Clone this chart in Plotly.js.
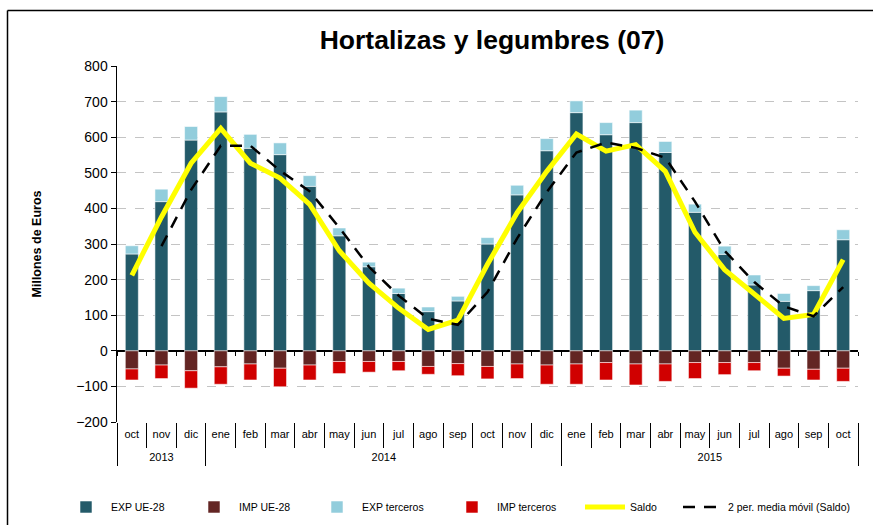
<!DOCTYPE html>
<html>
<head>
<meta charset="utf-8">
<script src="https://cdn.plot.ly/plotly-3.0.1.min.js"></script>
<style>
  html, body { margin: 0; padding: 0; background: #fff; }
  #chart { width: 873px; height: 525px; }
</style>
</head>
<body>
<div id="chart"></div>
<script>
const years = ['2013','2013','2013',
  '2014','2014','2014','2014','2014','2014','2014','2014','2014','2014','2014','2014',
  '2015','2015','2015','2015','2015','2015','2015','2015','2015','2015'];
const months = ['oct','nov','dic',
  'ene','feb','mar','abr','may','jun','jul','ago','sep','oct','nov','dic',
  'ene','feb','mar','abr','may','jun','jul','ago','sep','oct'];

const expUE = [272, 419, 592, 671, 569, 551, 462, 323, 236, 161, 110, 140, 300, 438, 562, 669, 607, 641, 557, 389, 271, 185, 139, 169, 312];
const impUE = [-51, -40, -56, -45, -37, -49, -40, -30, -30, -30, -44, -36, -44, -37, -40, -37, -33, -37, -37, -33, -33, -33, -49, -52, -49];
const expTerceros = [23, 35, 38, 43, 39, 33, 30, 22, 13, 15, 13, 13, 18, 27, 34, 33, 34, 35, 31, 23, 23, 28, 22, 14, 28];
const impTerceros = [-31, -38, -49, -49, -45, -52, -42, -34, -30, -26, -22, -34, -35, -41, -54, -57, -49, -59, -49, -45, -34, -23, -22, -30, -37];
const saldo = [212, 376, 527, 625, 527, 485, 411, 281, 190, 120, 60, 86, 243, 388, 504, 609, 561, 579, 504, 333, 228, 158, 91, 102, 256];
const mediaMovil = [null, 294, 452, 576, 576, 506, 448, 346, 236, 155, 90, 73, 165, 316, 446, 557, 585, 570, 542, 419, 281, 193, 125, 97, 179];

// category positions on the axis, derived from the label arrays
const idx = months.map((_, i) => i);
const monthBounds = months.map((_, i) => i - 0.5).concat([months.length - 0.5]);
const yearNames = [...new Set(years)];
const yearCenters = yearNames.map(y => {
  const ii = idx.filter(i => years[i] === y);
  return (ii[0] + ii[ii.length - 1]) / 2;
});
const yearBounds = idx.filter(i => i === 0 || years[i] !== years[i - 1]).map(i => i - 0.5).concat([months.length - 0.5]);
const xRange = [-0.5, months.length - 0.5];

const FONT = 'Liberation Sans, Arial, sans-serif';
const NARROW = 'Liberation Sans Narrow, Arial Narrow, Liberation Sans, sans-serif';
const barLine = { color: 'rgba(255,255,255,0.55)', width: 1 };
const helper = ax => ({ type: 'scatter', mode: 'markers', x: idx, y: saldo, xaxis: ax,
  marker: { opacity: 0 }, showlegend: false, hoverinfo: 'skip' });

const traces = [
  { type: 'bar', name: 'EXP UE-28', x: idx, y: expUE, marker: { color: '#235A69', line: barLine }, legendwidth: 73 },
  { type: 'bar', name: 'IMP UE-28', x: idx, y: impUE, marker: { color: '#632523', line: barLine }, legendwidth: 68 },
  { type: 'bar', name: 'EXP terceros', x: idx, y: expTerceros, marker: { color: '#92CDDC', line: barLine }, legendwidth: 80 },
  { type: 'bar', name: 'IMP terceros', x: idx, y: impTerceros, marker: { color: '#D00000', line: barLine }, legendwidth: 78 },
  { type: 'scatter', mode: 'lines', name: 'Saldo', x: idx, y: saldo, line: { color: '#FFFF00', width: 5 }, legendwidth: 43 },
  { type: 'scatter', mode: 'lines', name: '2 per. media móvil (Saldo)', x: idx, y: mediaMovil,
    line: { color: '#000000', width: 2.5, dash: '12px,9px' }, connectgaps: false },
  helper('x2'), helper('x3'), helper('x4'), helper('x5')
];

const W = 873, H = 525, L = 117, R = 15, T = 66, B = 103;
const pw = W - L - R, ph = H - T - B;
const px = v => (v - L) / pw;
const py = v => (H - B - v) / ph;

const overlay = extra => Object.assign({
  overlaying: 'x', anchor: 'free', position: 0, type: 'linear', range: xRange,
  tickmode: 'array', showgrid: false, zeroline: false, showline: false,
  tickcolor: '#000', tickwidth: 1, tickangle: 0
}, extra);

const layout = {
  width: W, height: H,
  margin: { l: L, r: R, t: T, b: B, autoexpand: false },
  paper_bgcolor: '#ffffff', plot_bgcolor: '#ffffff',
  font: { family: FONT, color: '#000' },
  barmode: 'relative',
  bargap: 0.56,
  title: { text: '<b>Hortalizas y legumbres (07)</b>', font: { family: FONT, size: 26.5, color: '#000' },
           xref: 'container', x: 492 / W, xanchor: 'center', yref: 'container', y: 1 - 40 / H, yanchor: 'middle' },
  xaxis: {
    type: 'linear', range: xRange, tickmode: 'array', tickvals: idx, ticktext: months,
    showline: false, ticks: '', showgrid: false, zeroline: false, tickangle: 0,
    ticklabelstandoff: 4,
    tickfont: { family: NARROW, size: 11, color: '#000' }
  },
  // month separators
  xaxis2: overlay({ tickvals: monthBounds, ticks: 'outside', ticklen: 25, showticklabels: false }),
  // small ticks on the zero line
  xaxis3: overlay({ position: 0.2, tickvals: monthBounds, ticks: 'outside', ticklen: 4, showticklabels: false }),
  // year labels
  xaxis4: overlay({ tickvals: yearCenters, ticktext: yearNames, ticks: '', ticklabelstandoff: 27,
                    tickfont: { family: NARROW, size: 11, color: '#000' } }),
  // year dividers
  xaxis5: overlay({ tickvals: yearBounds, ticks: 'outside', ticklen: 43, showticklabels: false }),
  yaxis: {
    range: [-200, 800], dtick: 100, tick0: 0,
    showline: true, linecolor: '#000', linewidth: 1.5,
    ticks: 'outside', ticklen: 5, tickcolor: '#000',
    showgrid: true, gridcolor: '#c4c4c4', griddash: 'dash', gridwidth: 1,
    zeroline: true, zerolinecolor: '#000', zerolinewidth: 1.5,
    tickfont: { family: FONT, size: 14, color: '#000' },
    title: { text: '<b>Millones de Euros</b>', font: { family: FONT, size: 12.5, color: '#000' }, standoff: 32 }
  },
  legend: {
    orientation: 'h', x: px(61), xanchor: 'left', y: py(507), yanchor: 'middle',
    font: { family: NARROW, size: 10.5, color: '#000' },
    traceorder: 'normal', itemwidth: 40, bgcolor: 'rgba(0,0,0,0)'
  },
  shapes: [
    { type: 'line', xref: 'paper', yref: 'paper', x0: px(7.5), x1: px(7.5), y0: py(H), y1: py(10.5), line: { color: '#000', width: 1.5 } },
    { type: 'line', xref: 'paper', yref: 'paper', x0: px(7.5), x1: px(W), y0: py(10.5), y1: py(10.5), line: { color: '#000', width: 1.5 } }
  ],
  showlegend: true
};

Plotly.newPlot('chart', traces, layout, { displayModeBar: false, staticPlot: true });
</script>
</body>
</html>
